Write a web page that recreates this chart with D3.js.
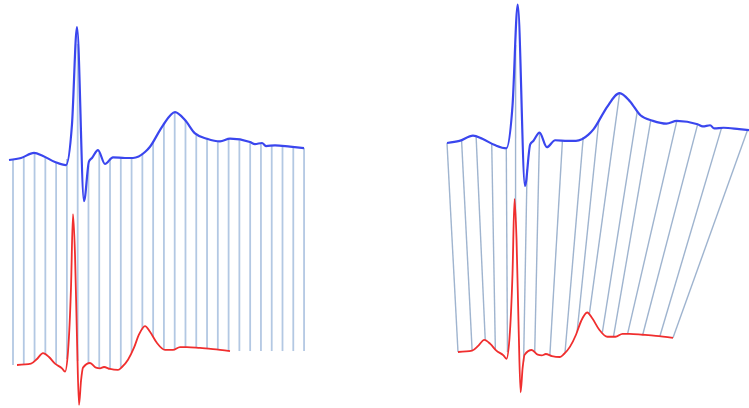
<!DOCTYPE html>
<html lang="en">
<head>
  <meta charset="UTF-8">
  <title>Euclidean vs DTW matching</title>
  <script src="https://d3js.org/d3.v7.min.js"></script>
  <style>
    body { margin: 0; overflow: hidden; background: #fff; }
    svg { display: block; }
  </style>
</head>
<body>
  <script>
    // query signal (blue), sample index -> amplitude (mV)
    const blueT = [0, 12, 25, 34, 46, 57, 63, 68, 75, 80, 83, 89, 96, 104, 116, 124, 136, 141, 151, 154, 166, 176, 186, 198, 211, 221, 241, 246, 253, 257, 266, 281, 295];
    const blueV = [0, 0.015, 0.053, 0.03, -0.015, -0.038, 0.27, 1.0, -0.31, -0.01, 0.015, 0.075, -0.03, 0.02, 0.015, 0.015, 0.06, 0.1, 0.225, 0.26, 0.36, 0.3, 0.2, 0.16, 0.14, 0.16, 0.135, 0.12, 0.128, 0.105, 0.11, 0.1, 0.09];

    // reference signal (red)
    const redT = [8, 22, 28, 34, 40, 46, 53, 56, 59, 62, 64, 66, 68, 70, 72, 74, 81, 87, 91, 95, 101, 109, 113, 119, 125, 130, 136, 141, 148, 156, 164, 171, 178, 191, 204, 221];
    const redV = [0, 0.01, 0.045, 0.09, 0.06, 0.01, -0.025, -0.05, 0.1, 0.58, 1.135, 0.83, 0.2, -0.3, -0.12, -0.02, 0.015, -0.02, -0.025, -0.015, -0.03, -0.037, -0.015, 0.04, 0.13, 0.23, 0.293, 0.25, 0.165, 0.113, 0.113, 0.135, 0.135, 0.128, 0.12, 0.105];

    // euclidean matching: same sample index on both
    const euclidT = d3.range(28).map(k => 4 + k * 10.78);

    // dtw warping path [blue index, red index]
    const dtwBlue = [0, 14, 28, 43, 57, 66, 77, 89, 111, 131, 146, 166, 183, 196, 221, 241, 264, 289];
    const dtwRed  = [8, 22, 35, 45, 57, 65, 73, 84, 99, 114, 126, 138, 151, 162, 176, 191, 208, 221];

    const W = 749, H = 408;
    const svg = d3.select("body").append("svg").attr("width", W).attr("height", H);

    const blueAt = d3.scaleLinear().domain(blueT).range(blueV).clamp(true);
    const redAt = d3.scaleLinear().domain(redT).range(redV).clamp(true);

    const blueData = blueT.map((t, i) => [t, blueV[i]]);
    const redData = redT.map((t, i) => [t, redV[i]]);

    // left panel
    const xL = d3.scaleLinear().domain([0, 295]).range([9, 304]);
    const yBL = d3.scaleLinear().domain([0, 1]).range([160, 27]);
    const yRL = d3.scaleLinear().domain([0, 1]).range([365, 232]);

    // right panel
    const xBR = d3.scaleLinear().domain([0, 295]).range([447, 753.8]);
    const yBR = d3.scaleLinear().domain([0, 1]).range([143, 4.5]);
    const xRR = d3.scaleLinear().domain([8, 221]).range([458, 673]);
    const yRR = d3.scaleLinear().domain([0, 1]).range([352, 217.2]);

    svg.append("g")
      .selectAll("line")
      .data(euclidT)
      .join("line")
      .attr("x1", d => xL(d))
      .attr("x2", d => xL(d))
      .attr("y1", d => yBL(blueAt(d)))
      .attr("y2", d => yRL(redAt(d)))
      .attr("stroke", "#b3c8e3")
      .attr("stroke-width", 1.8);

    svg.append("g")
      .selectAll("line")
      .data(dtwBlue.map((b, i) => [b, dtwRed[i]]))
      .join("line")
      .attr("x1", d => xBR(d[0]))
      .attr("y1", d => yBR(blueAt(d[0])))
      .attr("x2", d => xRR(d[1]))
      .attr("y2", d => yRR(redAt(d[1])))
      .attr("stroke", "#9fb4cf")
      .attr("stroke-width", 1.4);

    function drawSignal(data, x, y, color, width) {
      svg.append("path")
        .datum(data)
        .attr("fill", "none")
        .attr("stroke", color)
        .attr("stroke-width", width)
        .attr("stroke-linejoin", "round")
        .attr("d", d3.line().x(d => x(d[0])).y(d => y(d[1])).curve(d3.curveMonotoneX));
    }

    drawSignal(blueData, xL, yBL, "#3a46ee", 2.2);
    drawSignal(redData, xL, yRL, "#f02e2e", 1.8);
    drawSignal(blueData, xBR, yBR, "#3a46ee", 2.2);
    drawSignal(redData, xRR, yRR, "#f02e2e", 1.8);
  </script>
</body>
</html>
